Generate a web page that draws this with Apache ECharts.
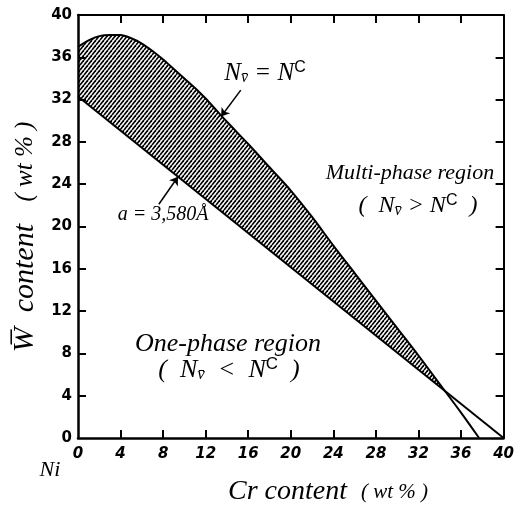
<!DOCTYPE html>
<html>
<head>
<meta charset="utf-8">
<script src="https://cdn.jsdelivr.net/npm/echarts@6/dist/echarts.min.js"></script>
<style>
  html, body { margin: 0; background: #fff; }
  #chart { width: 517px; height: 506px; }
</style>
</head>
<body>
<div id="chart"></div>
<script>
// N_v = N^c boundary (upper curve)
const upperX = [0, 1, 2, 3, 4, 5, 6, 7, 8, 9, 10, 11, 12, 13, 14, 16, 18, 20, 22, 24, 26, 28, 30, 32, 34, 36, 37.7];
const upperY = [37.0, 37.6, 38.0, 38.1, 38.1, 37.8, 37.3, 36.6, 35.8, 34.9, 34.0, 33.1, 32.1, 31.0, 29.9, 27.8, 25.6, 23.4, 20.9, 18.2, 15.6, 13.0, 10.4, 7.8, 5.1, 2.4, 0];
// a = 3.580 A line (lower)
const lowerX = [0, 40];
const lowerY = [32.3, 0];
// tick values, same on both axes
const tickValues = [4, 8, 12, 16, 20, 24, 28, 32, 36];
// arrows [tailX, tailY, headX, headY]
const arrowNv = [15.3, 32.9, 13.45, 30.4];
const arrowA = [7.6, 22.1, 9.4, 24.7];

const pairs = (xs, ys) => xs.map((x, i) => [x, ys[i]]);

function hatch() {
  const c = document.createElement('canvas');
  c.width = 4; c.height = 5;
  const g = c.getContext('2d');
  g.strokeStyle = '#000';
  g.lineWidth = 1.7;
  for (let x0 = 0; x0 <= 8; x0 += 4) {
    g.beginPath();
    g.moveTo(x0 - 4, 5);
    g.lineTo(x0, 0);
    g.stroke();
  }
  return c;
}

function label(x, y, text, font, rich, rotation) {
  return {
    type: 'text', x: x, y: y, z: 10, rotation: rotation || 0,
    style: { text: text, font: font, fill: '#000', align: 'center', verticalAlign: 'middle', rich: rich || {} },
  };
}
const sub = (px) => ({ font: 'italic ' + px + 'px "Liberation Serif"', fill: '#000', padding: [9, 0, 0, 0] });
const sup = (px) => ({ font: px + 'px "Liberation Sans"', fill: '#000', padding: [0, 0, 11, 0] });

function axis(pos, labels) {
  return {
    type: 'value', position: pos, min: 0, max: 40, interval: 4, z: 5,
    axisLine: { show: true, onZero: false, lineStyle: { color: '#000', width: labels ? 2.5 : 2 } },
    axisTick: { show: false },
    axisLabel: {
      show: labels, margin: pos === 'bottom' ? 9 : 6, fontStyle: pos === 'bottom' ? 'italic' : 'normal',
      fontFamily: 'DejaVu Sans', fontSize: 15, fontWeight: 'bold', color: '#000',
    },
    splitLine: { show: false },
  };
}

// inward ticks on all four sides, as short segments in data space (0.75 unit ~ 8 px)
const T = 0.75;
const tickSegs = [];
tickValues.forEach((v) => {
  tickSegs.push([{ coord: [v, 0] }, { coord: [v, T] }]);
  tickSegs.push([{ coord: [v, 40] }, { coord: [v, 40 - T] }]);
  tickSegs.push([{ coord: [0, v] }, { coord: [T, v] }]);
  tickSegs.push([{ coord: [40, v] }, { coord: [40 - T, v] }]);
});

const chart = echarts.init(document.getElementById('chart'));

chart.setOption({
  animation: false,
  grid: { left: 78, right: 7, top: 15, bottom: 68 },
  xAxis: [axis('bottom', true), axis('top', false)],
  yAxis: [axis('left', true), axis('right', false)],
  series: [
    {
      // hatched area under the upper curve
      type: 'line', z: 2, symbol: 'none', smooth: 0.3,
      data: pairs(upperX, upperY),
      lineStyle: { width: 0 },
      areaStyle: { color: { image: hatch(), repeat: 'repeat' }, opacity: 1 },
    },
    {
      // lower line, white fill below it masks the hatch
      type: 'line', z: 3, symbol: 'none',
      data: pairs(lowerX, lowerY),
      lineStyle: { color: '#000', width: 2 },
      areaStyle: { color: '#fff', opacity: 1 },
    },
    {
      type: 'line', z: 4, symbol: 'none', smooth: 0.3,
      data: pairs(upperX, upperY),
      lineStyle: { color: '#000', width: 2 },
      markLine: {
        silent: true, symbol: ['none', 'arrow'], symbolSize: 8,
        label: { show: false },
        lineStyle: { color: '#000', width: 1.5, type: 'solid' },
        data: [
          [{ coord: [arrowNv[0], arrowNv[1]] }, { coord: [arrowNv[2], arrowNv[3]] }],
          [{ coord: [arrowA[0], arrowA[1]] }, { coord: [arrowA[2], arrowA[3]] }],
        ],
      },
    },
    {
      // carrier series for the box ticks
      type: 'line', z: 6, symbol: 'none', data: [],
      markLine: {
        silent: true, symbol: ['none', 'none'], z: 6,
        label: { show: false },
        lineStyle: { color: '#000', width: 2, type: 'solid' },
        data: tickSegs,
      },
    },
  ],
  graphic: [
    label(265, 73, 'N{s|v̄} = N{c|C}', 'italic 25px "Liberation Serif"', { s: sub(16), c: sup(16) }),
    label(410, 173, 'Multi-phase region', 'italic 22px "Liberation Serif"'),
    label(418, 206, '(  N{s|v̄} > N{c|C}  )', 'italic 24px "Liberation Serif"', { s: sub(16), c: sup(16) }),
    label(163, 215, 'a = 3,580Å', 'italic 20px "Liberation Serif"'),
    label(228, 344, 'One-phase region', 'italic 26px "Liberation Serif"'),
    label(229, 370, '(  N{s|v̄}  <  N{c|C}  )', 'italic 26px "Liberation Serif"', { s: sub(17), c: sup(17) }),
    label(50, 470, 'Ni', 'italic 22px "Liberation Serif"'),
    label(328, 492, 'Cr content  {s|( wt % )}', 'italic 28px "Liberation Serif"',
      { s: { font: 'italic 21px "Liberation Serif"', fill: '#000' } }),
    label(25, 237, 'W̅  content   {s|( wt % )}', 'italic 30px "Liberation Serif"',
      { s: { font: 'italic 25px "Liberation Serif"', fill: '#000' } }, Math.PI / 2),
  ],
});
</script>
</body>
</html>
